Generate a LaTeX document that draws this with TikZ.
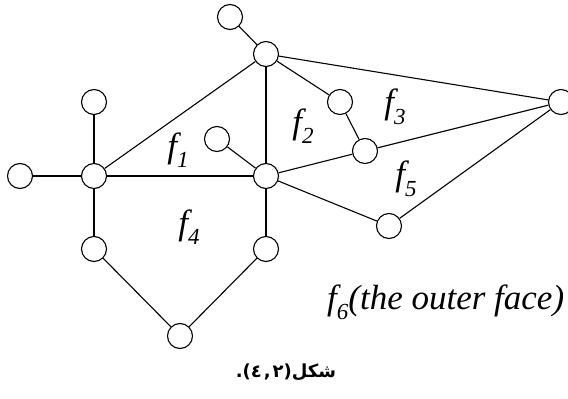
\documentclass[tikz,border=0pt]{standalone}
\usepackage{fontspec}
\setmainfont{Liberation Serif}
\newfontfamily\arabicfont[Script=Arabic]{DejaVu Sans}
\newfontfamily\punctfont{DejaVu Sans}
\TeXXeTstate=1
\usetikzlibrary{positioning}
\tikzset{
  vtx/.style={circle,draw=black,fill=white,line width=1.1pt,minimum size=25pt,inner sep=0pt},
  edg/.style={line width=1.1pt,color=black},
  facelbl/.style={font=\fontsize{35}{35}\selectfont\itshape,inner sep=0pt},
  caplbl/.style={font=\fontsize{18}{18}\selectfont\bfseries,inner sep=0pt}
}
\newcommand{\fc}[1]{f\raisebox{-0.3em}{\fontsize{23}{23}\selectfont #1}}

\begin{document}
\begin{tikzpicture}[x=1pt,y=-1pt]
  \useasboundingbox (0,0) rectangle (568,399);

  %% Vertices
  \node[vtx] (top)    at (230,17)  {};
  \node[vtx] (hubT)   at (266,54)  {};
  \node[vtx] (leftE)  at (20,176)  {};
  \node[vtx] (hubL)   at (94,176)  {};
  \node[vtx] (upL)    at (94,102)  {};
  \node[vtx] (pend)   at (217,139) {};
  \node[vtx] (hubC)   at (266,176) {};
  \node[vtx] (lowL)   at (94,249)  {};
  \node[vtx] (lowR)   at (266,249) {};
  \node[vtx] (bot)    at (180,336) {};
  \node[vtx] (midK)   at (340,102) {};
  \node[vtx] (midL)   at (365,151) {};
  \node[vtx] (farR)   at (561,102) {};
  \node[vtx] (lowN)   at (389,226) {};

  %% Edges
  \draw[edg] (top)--(hubT);
  \draw[edg] (hubT)--(hubL);
  \draw[edg] (hubT)--(hubC);
  \draw[edg] (hubT)--(midK);
  \draw[edg] (hubT)--(farR);
  \draw[edg] (midK)--(midL);
  \draw[edg] (midL)--(hubC);
  \draw[edg] (midL)--(farR);
  \draw[edg] (hubC)--(lowN);
  \draw[edg] (lowN)--(farR);
  \draw[edg] (leftE)--(hubL);
  \draw[edg] (hubL)--(upL);
  \draw[edg] (hubL)--(hubC);
  \draw[edg] (hubL)--(lowL);
  \draw[edg] (pend)--(hubC);
  \draw[edg] (hubC)--(lowR);
  \draw[edg] (lowL)--(bot);
  \draw[edg] (lowR)--(bot);

  %% Faces
  \node[facelbl] (f1) at (178,150) {\fc{1}};
  \node[facelbl] (f2) at (303,126) {\fc{2}};
  \node[facelbl] (f3) at (395,107) {\fc{3}};
  \node[facelbl] (f5) at (406,179) {\fc{5}};
  \node[facelbl] (f4) at (189,227) {\fc{4}};
  \node[facelbl,anchor=base west] (f6) at (327,309) {\fc{6}(the outer face)};

  %% Caption (pieces in visual order)
  \node[caplbl] (cap) at (286,372)
    {\hbox{\punctfont .}\hbox{\punctfont (}\hbox{\punctfont ٤}\kern2pt\hbox{\punctfont ,}\kern2pt\hbox{\punctfont ۲}\hbox{\punctfont )}\hbox{\arabicfont\beginR شکل\endR}};
\end{tikzpicture}
\end{document}
